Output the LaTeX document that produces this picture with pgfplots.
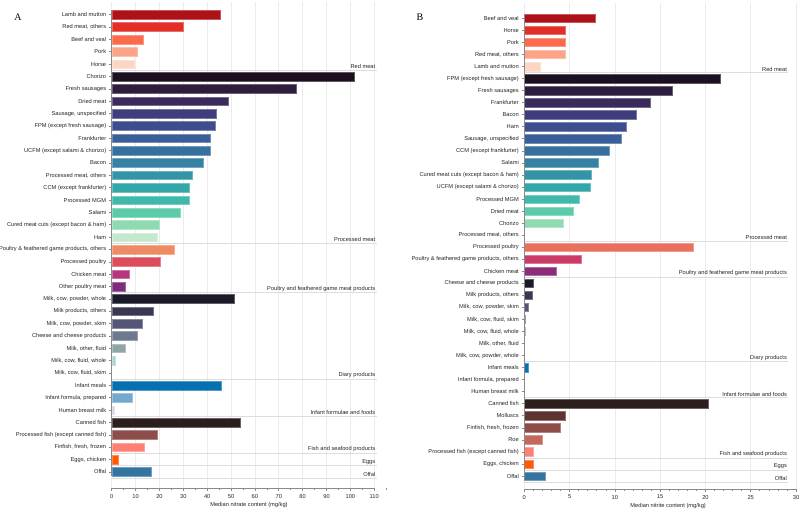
\documentclass[border=0pt]{standalone}
\usepackage{fontspec}
\setmainfont{Liberation Sans}
\newfontfamily\seriffont{Liberation Serif}
\usepackage{pgfplots}
\pgfplotsset{compat=1.18}

% red meat
\definecolor{rmA}{HTML}{AE1118}
\definecolor{rmB}{HTML}{E32F27}
\definecolor{rmC}{HTML}{FB6B4B}
\definecolor{rmD}{HTML}{FCA486}
\definecolor{rmE}{HTML}{FDD5C4}
% processed meat
\definecolor{pmA}{HTML}{1C1020}
\definecolor{pmB}{HTML}{2D1E3E}
\definecolor{pmC}{HTML}{3A2B5C}
\definecolor{pmD}{HTML}{403D7E}
\definecolor{pmE}{HTML}{3E4E8C}
\definecolor{pmF}{HTML}{3A5E98}
\definecolor{pmG}{HTML}{37709E}
\definecolor{pmH}{HTML}{3682A4}
\definecolor{pmI}{HTML}{3394A8}
\definecolor{pmJ}{HTML}{33A6AA}
\definecolor{pmK}{HTML}{3FB9AC}
\definecolor{pmL}{HTML}{5CCBAA}
\definecolor{pmM}{HTML}{8FDAB1}
\definecolor{pmN}{HTML}{C2E9CB}
% poultry
\definecolor{paA}{HTML}{EF8B63}
\definecolor{paB}{HTML}{DD4C5B}
\definecolor{paC}{HTML}{B5367A}
\definecolor{paD}{HTML}{7D2C7B}
\definecolor{pbA}{HTML}{E8705C}
\definecolor{pbB}{HTML}{CB3B67}
\definecolor{pbC}{HTML}{8E2C7A}
% dairy
\definecolor{dA}{HTML}{1B1A28}
\definecolor{dB}{HTML}{383853}
\definecolor{dC}{HTML}{545675}
\definecolor{dD}{HTML}{6E7990}
\definecolor{dE}{HTML}{8FA5AA}
\definecolor{dF}{HTML}{A9D5D1}
% infant
\definecolor{iA}{HTML}{0670B0}
\definecolor{iB}{HTML}{74A9CF}
\definecolor{iC}{HTML}{D5D5E8}
% fish
\definecolor{fA}{HTML}{2D1E1E}
\definecolor{fB}{HTML}{5E3433}
\definecolor{fC}{HTML}{8E4D48}
\definecolor{fD}{HTML}{C4685E}
\definecolor{fE}{HTML}{FE8072}
\definecolor{egg}{HTML}{FF5A00}
\definecolor{offal}{HTML}{3574A0}
\definecolor{sep}{HTML}{DDDDDD}
\definecolor{spine}{HTML}{8A8A8A}

\newcommand\lbl{\fontsize{5.7}{6}\selectfont}
\newcommand\hb[3]{\addplot[fill=#1,draw=#1!70!white] coordinates {(#2,#3)};}
\newcommand\grp[3]{% x-right, y, text
  \draw[sep,line width=0.7pt] (0,#2) -- (#1,#2);
  \node[anchor=south east,inner sep=1.2pt,font=\lbl,text=black!85] at (#1,#2) {#3};}

\pgfplotsset{
  panel/.style={
    scale only axis,
    anchor=south west,
    clip=false,
    axis line style={draw=none},
    tick pos=left,
    tick align=outside,
    major tick length=2.5pt,
    minor tick length=1.5pt,
    tick style={spine,line width=0.6pt},
    xmajorgrids,
    grid style={black!8,line width=0.6pt},
    tick label style={font=\lbl,text=black!85},
    label style={font=\lbl,text=black!85},
    /pgf/number format/assume math mode=true,
    xmin=0,
    bar width=0.7,
    every axis plot/.append style={xbar,bar shift=0pt,line width=0.4pt},
    y tick label style={xshift=0.5pt},
    xlabel style={yshift=3pt},
  },
}

\begin{document}
\begin{tikzpicture}
\path[use as bounding box] (0,0) rectangle (800pt,509pt);

% ---------- A: nitrate ----------
\begin{axis}[panel,
  at={(111.7pt,21pt)},
  width=274.5pt, height=485.7pt,
  xmax=115, ymin=-38.3, ymax=1.0,
  xtick={0,10,...,110},
  minor xtick={5,15,...,115},
  ytick={0,-1,...,-37},
  yticklabels={Lamb and mutton,{Red meat, others},Beef and veal,Pork,Horse,
    Chorizo,Fresh sausages,Dried meat,{Sausage, unspecified},FPM (except fresh sausage),
    Frankfurter,UCFM (except salami \& chorizo),Bacon,{Processed meat, others},
    CCM (except frankfurter),Processed MGM,Salami,Cured meat cuts (except bacon \& ham),Ham,
    {Poultry \& feathered game products, others},Processed poultry,Chicken meat,Other poultry meat,
    {Milk, cow, powder, whole},{Milk products, others},{Milk, cow, powder, skim},
    Cheese and cheese products,{Milk, other, fluid},{Milk, cow, fluid, whole},{Milk, cow, fluid, skim},
    Infant meals,{Infant formula, prepared},Human breast milk,
    Canned fish,Processed fish (except canned fish),{Finfish, fresh, frozen},
    {Eggs, chicken},Offal},
  xlabel={Median nitrate content (mg/kg)},
]
\hb{rmA}{45.4}{0}
\hb{rmB}{29.9}{-1}
\hb{rmC}{13.0}{-2}
\hb{rmD}{10.5}{-3}
\hb{rmE}{9.4}{-4}
\hb{pmA}{101.5}{-5}
\hb{pmB}{77.2}{-6}
\hb{pmC}{48.7}{-7}
\hb{pmD}{43.7}{-8}
\hb{pmE}{43.3}{-9}
\hb{pmF}{41.3}{-10}
\hb{pmG}{41.3}{-11}
\hb{pmH}{38.4}{-12}
\hb{pmI}{33.8}{-13}
\hb{pmJ}{32.4}{-14}
\hb{pmK}{32.3}{-15}
\hb{pmL}{28.9}{-16}
\hb{pmM}{20.0}{-17}
\hb{pmN}{19.0}{-18}
\hb{paA}{26.0}{-19}
\hb{paB}{20.5}{-20}
\hb{paC}{7.4}{-21}
\hb{paD}{5.7}{-22}
\hb{dA}{51.4}{-23}
\hb{dB}{17.3}{-24}
\hb{dC}{12.8}{-25}
\hb{dD}{10.6}{-26}
\hb{dE}{5.7}{-27}
\hb{dF}{1.4}{-28}
\hb{iA}{45.8}{-30}
\hb{iB}{8.6}{-31}
\hb{iC}{1.1}{-32}
\hb{fA}{54.0}{-33}
\hb{fC}{19.1}{-34}
\hb{fE}{13.7}{-35}
\hb{egg}{2.7}{-36}
\hb{offal}{16.5}{-37}
\grp{111}{-4.5}{Red meat}
\grp{111}{-18.5}{Processed meat}
\grp{111}{-22.5}{Poultry and feathered game meat products}
\grp{111}{-29.5}{Diary products}
\grp{111}{-32.5}{Infant formulae and foods}
\grp{111}{-35.5}{Fish and seafood products}
\grp{111}{-36.5}{Eggs}
\grp{111}{-37.5}{Offal}
\draw[spine,line width=0.9pt] (0,0.35) -- (0,-37.35);
\draw[spine,line width=0.9pt] (0,-38.3) -- (110,-38.3);
\end{axis}

% ---------- B: nitrite ----------
\begin{axis}[panel,
  at={(524.3pt,20pt)},
  width=271.7pt, height=485.7pt,
  xmax=30, ymin=-39.08, ymax=1.25,
  xtick={0,5,...,30},
  minor xtick={1,2,3,4,6,7,8,9,11,12,13,14,16,17,18,19,21,22,23,24,26,27,28,29},
  ytick={0,-1,...,-38},
  yticklabels={Beef and veal,Horse,Pork,{Red meat, others},Lamb and mutton,
    FPM (except fresh sausage),Fresh sausages,Frankfurter,Bacon,Ham,{Sausage, unspecified},
    CCM (except frankfurter),Salami,Cured meat cuts (except bacon \& ham),
    UCFM (except salami \& chorizo),Processed MGM,Dried meat,Chorizo,{Processed meat, others},
    Processed poultry,{Poultry \& feathered game products, others},Chicken meat,
    Cheese and cheese products,{Milk products, others},{Milk, cow, powder, skim},
    {Milk, cow, fluid, skim},{Milk, cow, fluid, whole},{Milk, other, fluid},{Milk, cow, powder, whole},
    Infant meals,{Infant formula, prepared},Human breast milk,
    Canned fish,Molluscs,{Finfish, fresh, frozen},Roe,Processed fish (except canned fish),
    {Eggs, chicken},Offal},
  xlabel={Median nitrite content (mg/kg)},
  xlabel style={xshift=8pt},
]
\hb{rmA}{7.84}{0}
\hb{rmB}{4.49}{-1}
\hb{rmC}{4.49}{-2}
\hb{rmD}{4.49}{-3}
\hb{rmE}{1.73}{-4}
\hb{pmA}{21.6}{-5}
\hb{pmB}{16.3}{-6}
\hb{pmC}{13.9}{-7}
\hb{pmD}{12.3}{-8}
\hb{pmE}{11.3}{-9}
\hb{pmF}{10.7}{-10}
\hb{pmG}{9.4}{-11}
\hb{pmH}{8.2}{-12}
\hb{pmI}{7.4}{-13}
\hb{pmJ}{7.3}{-14}
\hb{pmK}{6.1}{-15}
\hb{pmL}{5.4}{-16}
\hb{pmM}{4.3}{-17}
\hb{pbA}{18.6}{-19}
\hb{pbB}{6.3}{-20}
\hb{pbC}{3.5}{-21}
\hb{dA}{1.0}{-22}
\hb{dB}{0.88}{-23}
\hb{dC}{0.45}{-24}
\hb{dD}{0.12}{-25}
\hb{dE}{0.10}{-26}
\hb{iA}{0.48}{-29}
\hb{fA}{20.3}{-32}
\hb{fB}{4.5}{-33}
\hb{fC}{4.0}{-34}
\hb{fD}{2.0}{-35}
\hb{fE}{1.0}{-36}
\hb{egg}{1.0}{-37}
\hb{offal}{2.3}{-38}
\grp{29.15}{-4.5}{Red meat}
\grp{29.15}{-18.5}{Processed meat}
\grp{29.15}{-21.5}{Poultry and feathered game meat products}
\grp{29.15}{-28.5}{Diary products}
\grp{29.15}{-31.5}{Infant formulae and foods}
\grp{29.15}{-36.5}{Fish and seafood products}
\grp{29.15}{-37.5}{Eggs}
\grp{29.15}{-38.5}{Offal}
\draw[spine,line width=0.9pt] (0,0.35) -- (0,-38.35);
\draw[spine,line width=0.9pt] (0,-39.08) -- (30,-39.08);
\end{axis}

\node[font=\seriffont\fontsize{10}{12}\selectfont,anchor=center] at (18pt,492pt) {A};
\node[font=\seriffont\fontsize{10}{12}\selectfont,anchor=center] at (420pt,492pt) {B};
\end{tikzpicture}
\end{document}
